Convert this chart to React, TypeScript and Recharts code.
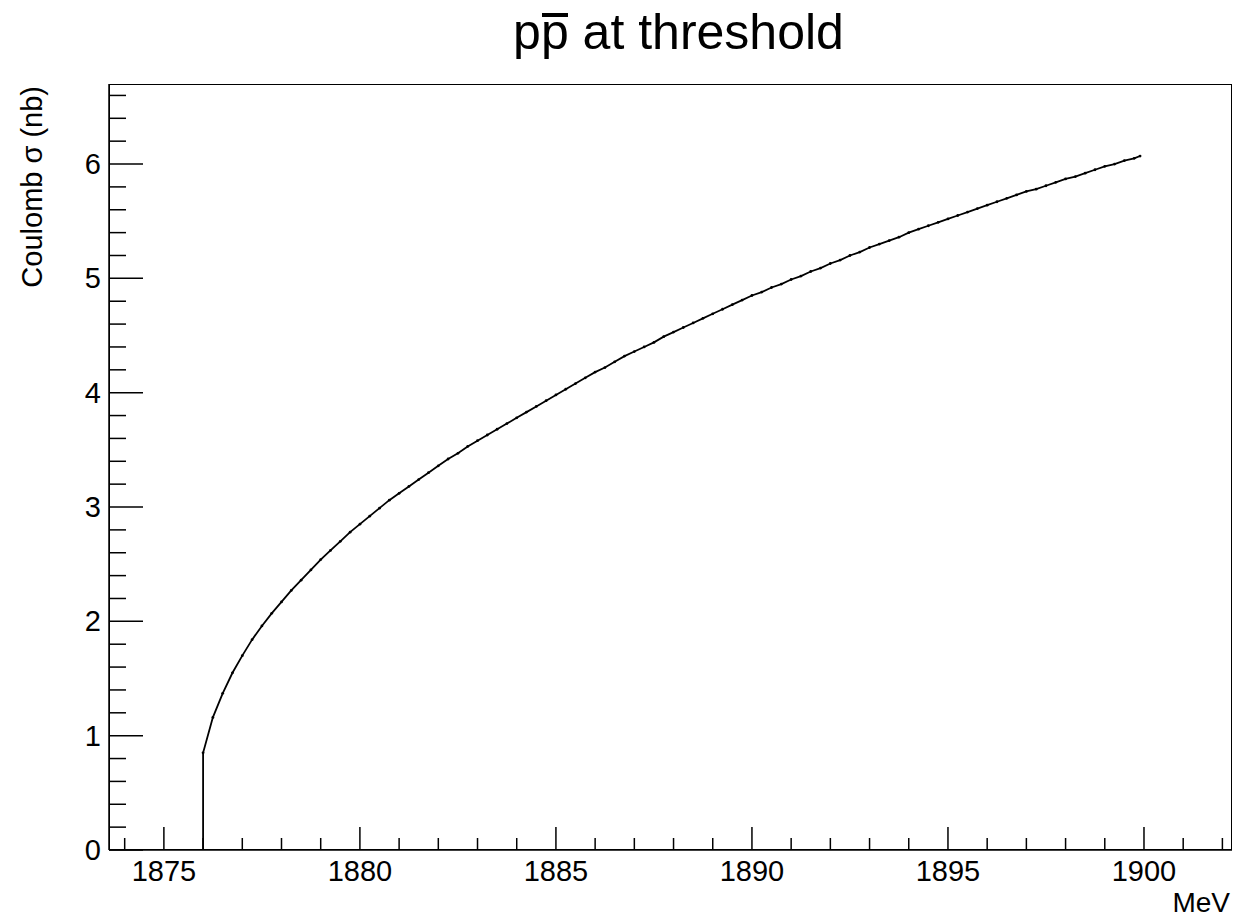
import React from "react";
import { LineChart, Line, XAxis, YAxis } from "recharts";

const ENERGY_MEV = [1876.0, 1876.0, 1876.25, 1876.5, 1876.75, 1877.0, 1877.25, 1877.5, 1877.75, 1878.0, 1878.25, 1878.5, 1878.75, 1879.0, 1879.25, 1879.5, 1879.75, 1880.0, 1880.25, 1880.5, 1880.75, 1881.0, 1881.25, 1881.5, 1881.75, 1882.0, 1882.25, 1882.5, 1882.75, 1883.0, 1883.25, 1883.5, 1883.75, 1884.0, 1884.25, 1884.5, 1884.75, 1885.0, 1885.25, 1885.5, 1885.75, 1886.0, 1886.25, 1886.5, 1886.75, 1887.0, 1887.25, 1887.5, 1887.75, 1888.0, 1888.25, 1888.5, 1888.75, 1889.0, 1889.25, 1889.5, 1889.75, 1890.0, 1890.25, 1890.5, 1890.75, 1891.0, 1891.25, 1891.5, 1891.75, 1892.0, 1892.25, 1892.5, 1892.75, 1893.0, 1893.25, 1893.5, 1893.75, 1894.0, 1894.25, 1894.5, 1894.75, 1895.0, 1895.25, 1895.5, 1895.75, 1896.0, 1896.25, 1896.5, 1896.75, 1897.0, 1897.25, 1897.5, 1897.75, 1898.0, 1898.25, 1898.5, 1898.75, 1899.0, 1899.25, 1899.5, 1899.75, 1899.9];

const SIGMA_NB = [0, 0.85, 1.16, 1.37, 1.55, 1.70, 1.84, 1.96, 2.07, 2.17, 2.27, 2.36, 2.45, 2.54, 2.62, 2.70, 2.78, 2.85, 2.92, 2.99, 3.06, 3.12, 3.18, 3.24, 3.30, 3.36, 3.42, 3.47, 3.53, 3.58, 3.63, 3.68, 3.73, 3.78, 3.83, 3.88, 3.93, 3.98, 4.03, 4.08, 4.13, 4.18, 4.22, 4.27, 4.32, 4.36, 4.40, 4.44, 4.49, 4.53, 4.57, 4.61, 4.65, 4.69, 4.73, 4.77, 4.81, 4.85, 4.88, 4.92, 4.95, 4.99, 5.02, 5.06, 5.09, 5.13, 5.16, 5.20, 5.23, 5.27, 5.30, 5.33, 5.36, 5.40, 5.43, 5.46, 5.49, 5.52, 5.55, 5.58, 5.61, 5.64, 5.67, 5.70, 5.73, 5.76, 5.78, 5.81, 5.84, 5.87, 5.89, 5.92, 5.95, 5.98, 6.00, 6.03, 6.05, 6.07];

const X_TICKS = [1874, 1875, 1876, 1877, 1878, 1879, 1880, 1881, 1882, 1883, 1884, 1885, 1886, 1887, 1888, 1889, 1890, 1891, 1892, 1893, 1894, 1895, 1896, 1897, 1898, 1899, 1900, 1901, 1902];
const X_MAJOR = [1875, 1880, 1885, 1890, 1895, 1900];
const Y_TICKS = [0, 0.2, 0.4, 0.6, 0.8, 1, 1.2, 1.4, 1.6, 1.8, 2, 2.2, 2.4, 2.6, 2.8, 3, 3.2, 3.4, 3.6, 3.8, 4, 4.2, 4.4, 4.6, 4.8, 5, 5.2, 5.4, 5.6, 5.8, 6, 6.2, 6.4, 6.6];
const Y_MAJOR = [0, 1, 2, 3, 4, 5, 6];
const X_DOMAIN = [1873.6, 1902.245];
const Y_DOMAIN = [0, 6.7];

const TITLE_PARTICLE = "p";
const TITLE_ANTI = "p";
const TITLE_REST = " at threshold";
const X_TITLE = "MeV";
const Y_TITLE = "Coulomb \u03c3 (nb)";

const FONT = "'Liberation Sans', Arial, Helvetica, sans-serif";

const n = Math.min(ENERGY_MEV.length, SIGMA_NB.length);
const data = ENERGY_MEV.slice(0, n).map((e, i) => ({ e, s: SIGMA_NB[i] }));

const XTick = (props: any) => {
  const { x, y, payload } = props;
  const v = payload.value;
  const major = X_MAJOR.includes(v);
  return (
    <g>
      <line x1={x} x2={x} y1={y} y2={y - (major ? 23 : 12)} stroke="#000" strokeWidth={1.5} />
      {major && (
        <text x={x} y={y + 31} textAnchor="middle" fontSize={29} fontFamily={FONT} fill="#000">
          {v}
        </text>
      )}
    </g>
  );
};

const YTick = (props: any) => {
  const { x, y, payload } = props;
  const v = payload.value;
  const major = Y_MAJOR.some((m) => Math.abs(m - v) < 1e-6);
  return (
    <g>
      <line x1={x} x2={x + (major ? 34 : 17)} y1={y} y2={y} stroke="#000" strokeWidth={1.5} />
      {major && (
        <text x={x - 8} y={y + 10} textAnchor="end" fontSize={29} fontFamily={FONT} fill="#000">
          {v}
        </text>
      )}
    </g>
  );
};

const XTitle = (props: any) => {
  const vb = props.viewBox || {};
  return (
    <text x={vb.x + vb.width - 2} y={vb.y + 62} textAnchor="end" fontSize={28} fontFamily={FONT} fill="#000">
      {X_TITLE}
    </text>
  );
};

const YTitle = (props: any) => {
  const vb = props.viewBox || {};
  const px = vb.x - 7;
  const py = vb.y + 2;
  return (
    <text x={px} y={py} transform={`rotate(-90, ${px}, ${py})`} textAnchor="end" fontSize={29} fontFamily={FONT} fill="#000">
      {Y_TITLE}
    </text>
  );
};

const Dot = (props: any) => {
  const { cx, cy, payload, index } = props;
  if (payload.s === 0) return <g key={index} />;
  return <circle key={index} cx={cx} cy={cy} r={1.4} fill="#000" />;
};

export default function App() {
  return (
    <div style={{ position: "absolute", left: 0, top: 0, width: 1233, height: 917, background: "#fff" }}>
      <div
        style={{
          position: "absolute",
          left: 0,
          width: 1357,
          top: 7,
          textAlign: "center",
          fontFamily: FONT,
          fontSize: 50,
          lineHeight: "50px",
          color: "#000",
          whiteSpace: "nowrap",
        }}
      >
        {TITLE_PARTICLE}
        <span style={{ display: "inline-block", position: "relative" }}>
          {TITLE_ANTI}
          <span style={{ position: "absolute", left: 1, right: 1, top: 6, height: 4, background: "#000" }} />
        </span>
        {TITLE_REST}
      </div>
      <LineChart
        width={1233}
        height={917}
        data={data}
        margin={{ top: 84, right: 1, bottom: 37, left: 49 }}
      >
        <XAxis
          dataKey="e"
          type="number"
          domain={X_DOMAIN}
          ticks={X_TICKS}
          interval={0}
          allowDataOverflow
          tickSize={0}
          tickMargin={0}
          tickLine={false}
          tick={<XTick />}
          height={30}
          axisLine={{ stroke: "#000", strokeWidth: 1.5 }}
          label={<XTitle />}
        />
        <YAxis
          type="number"
          domain={Y_DOMAIN}
          ticks={Y_TICKS}
          interval={0}
          allowDataOverflow
          tickSize={0}
          tickMargin={0}
          tickLine={false}
          tick={<YTick />}
          width={60}
          axisLine={{ stroke: "#000", strokeWidth: 1.5 }}
          label={<YTitle />}
        />
        <Line
          type="linear"
          dataKey="s"
          stroke="#000"
          strokeWidth={1.8}
          dot={<Dot />}
          activeDot={false}
          isAnimationActive={false}
        />
      </LineChart>
      <div
        style={{
          position: "absolute",
          left: 108.5,
          top: 83.5,
          width: 1123,
          height: 766,
          border: "1.5px solid #000",
          boxSizing: "border-box",
          pointerEvents: "none",
        }}
      />
    </div>
  );
}
